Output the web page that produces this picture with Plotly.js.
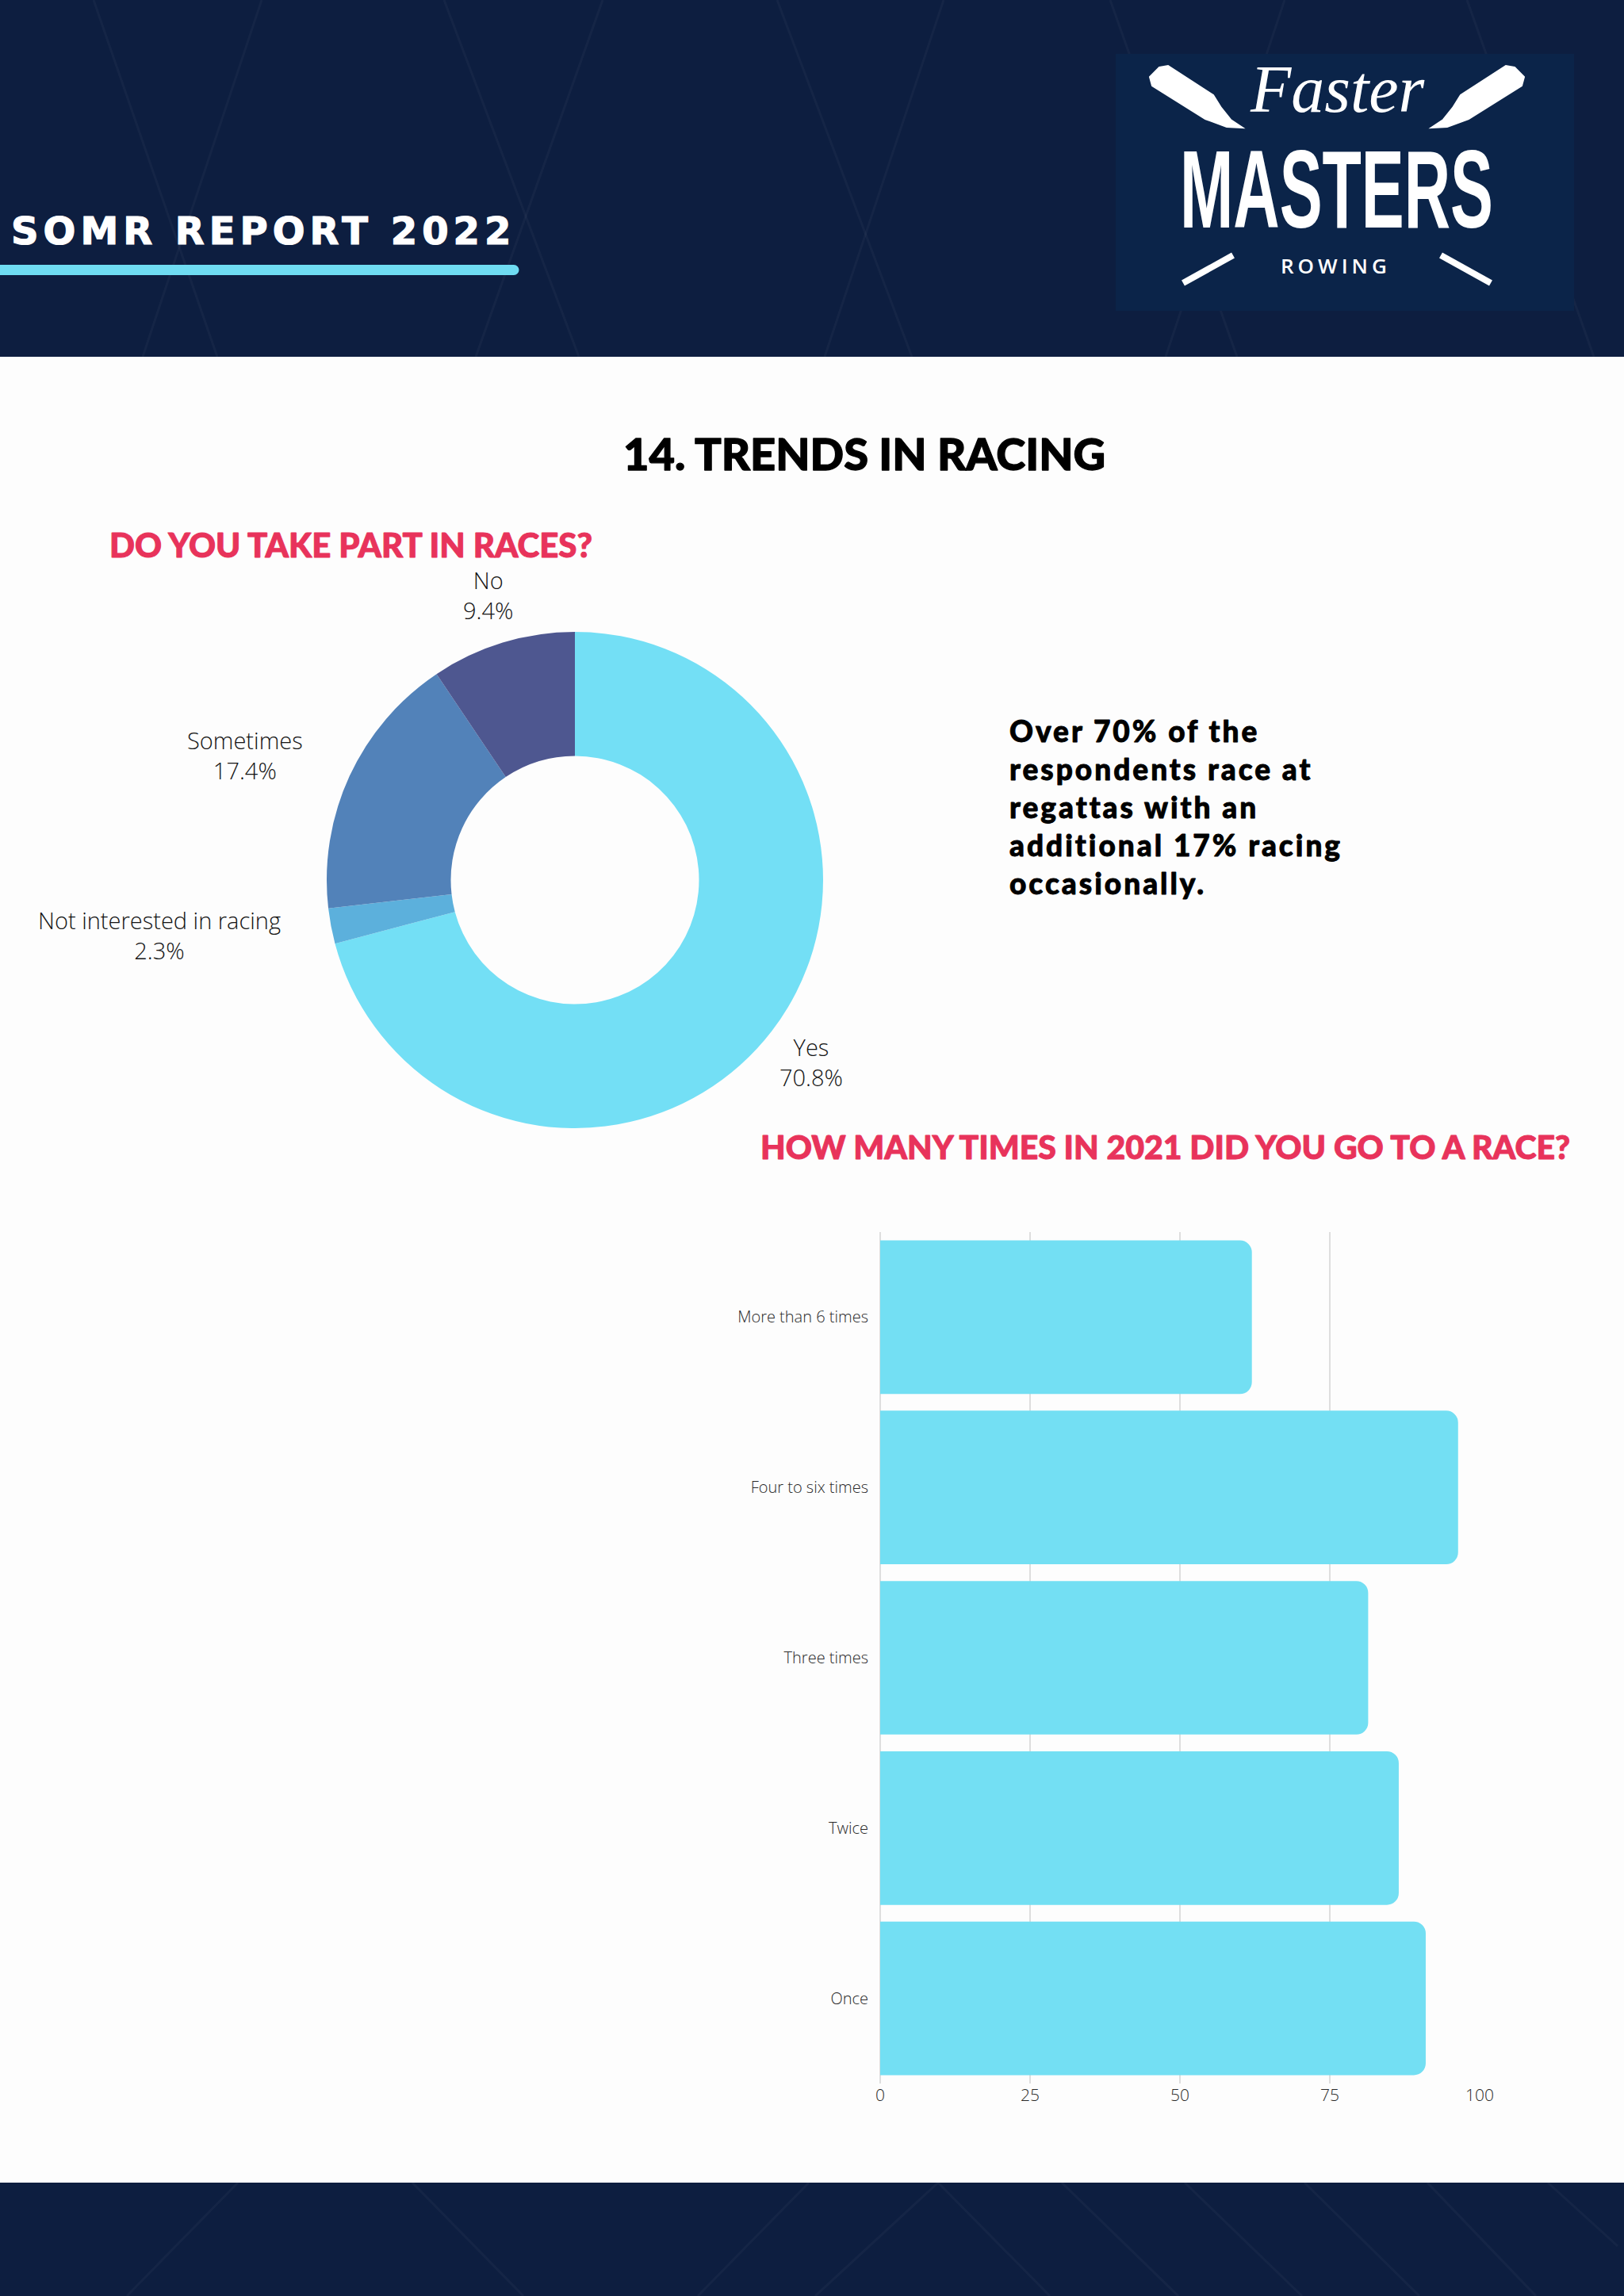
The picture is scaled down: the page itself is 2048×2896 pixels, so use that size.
<!DOCTYPE html>
<html>
<head>
<meta charset="utf-8">
<script src="https://cdn.plot.ly/plotly-3.0.1.min.js"></script>
<style>html,body{margin:0;padding:0;background:#fdfdfd;}</style>
</head>
<body>
<div id="chart" style="width:2048px;height:2896px;"></div>
<script>
// ---------- data ----------
const pieLabels = ["Yes", "Not interested in racing", "Sometimes", "No"];
const pieValues = [70.8, 2.3, 17.4, 9.4];
const pieColors = ["#73dff5", "#5cb0dc", "#5282b9", "#4e5790"];

const barCategories = ["More than 6 times", "Four to six times", "Three times", "Twice", "Once"];
const barValues = [62, 96.4, 81.4, 86.5, 91];
const xTickValues = [0, 25, 50, 75, 100];

const pageTitle = "14. TRENDS IN RACING";
const reportTitle = "SOMR REPORT 2022";
const pieTitle = "DO YOU TAKE PART IN RACES?";
const barTitle = "HOW MANY TIMES IN 2021 DID YOU GO TO A RACE?";
const bodyLines = ["Over 70% of the", "respondents race at", "regattas with an", "additional 17% racing", "occasionally."];

// ---------- font detection for the heavy headline face ----------
function measure(font) {
  const c = document.createElement("canvas").getContext("2d");
  c.font = font;
  return c.measureText("TRENDS IN RACING 2021 regattas").width;
}
const hasLatoBlackFamily = Math.abs(measure('900 50px "Lato Black", monospace') - measure("900 50px monospace")) > 0.5;
const heavy = hasLatoBlackFamily ? "'Lato Black', Lato, sans-serif" : "Lato, 'Open Sans', sans-serif";
const strokeScale = hasLatoBlackFamily ? 0.35 : 1;

// ---------- page geometry helpers (pixels -> paper) ----------
const W = 2048, H = 2896;
const px = v => v / W;
const py = v => 1 - v / H;
const navy = "#0d1e40";
const pink = "#e8335b";

function rectPx(x0, y0, x1, y1, color) {
  return {type: "rect", xref: "paper", yref: "paper",
    x0: px(x0), x1: px(x1), y0: py(y1), y1: py(y0),
    fillcolor: color, line: {width: 0}, layer: "below"};
}
function circlePx(cx, cy, r, color) {
  return {type: "circle", xref: "paper", yref: "paper",
    x0: px(cx - r), x1: px(cx + r), y0: py(cy + r), y1: py(cy - r),
    fillcolor: color, line: {width: 0}, layer: "below"};
}
function linePx(x0, y0, x1, y1, color, w, layer) {
  return {type: "line", xref: "paper", yref: "paper",
    x0: px(x0), y0: py(y0), x1: px(x1), y1: py(y1),
    line: {color: color, width: w}, layer: layer || "below"};
}
function polyPx(pts, color) {
  const d = pts.map((p, i) => (i ? "L" : "M") + px(p[0]).toFixed(5) + "," + py(p[1]).toFixed(5)).join(" ") + " Z";
  return {type: "path", xref: "paper", yref: "paper", path: d,
    fillcolor: color, line: {color: color, width: 2}, layer: "above"};
}

const shapes = [];
shapes.push(rectPx(0, 0, W, 450, navy));
shapes.push(rectPx(0, 2753, W, H, navy));
const faint = "rgba(255,255,255,0.035)";
[[118,0,274,450],[330,0,180,450],[560,0,730,450],[760,0,600,450],[980,0,1150,450],
 [1190,0,1040,450],[1400,0,1560,450],[1620,0,1470,450],[1850,0,2010,450]].forEach(s =>
  shapes.push(linePx(s[0], s[1], s[2], s[3], faint, 3)));
[[1183,2753,1028,2896],[1183,2753,1324,2896],[1339,2753,1486,2896],[1494,2753,1642,2896],
 [1645,2753,1790,2896],[1800,2753,1937,2896],[1952,2753,2040,2833],[1020,2753,880,2896],
 [300,2753,160,2896],[520,2753,660,2896]].forEach(s =>
  shapes.push(linePx(s[0], s[1], s[2], s[3], faint, 3)));
// underline bar
shapes.push(rectPx(0, 334, 648, 347, "#6fdcf2"));
shapes.push(circlePx(648, 340.5, 6.5, "#6fdcf2"));
// logo box
shapes.push(rectPx(1407, 68, 1985, 392, "#0b2449"));
// oar blades
const MIRROR = 3372;
const blade = [[1462,85],[1473,83],[1530,120],[1540,136],[1552,151],[1567,161],[1547,160],[1520,150],[1453,108],[1450,97]];
shapes.push(polyPx(blade, "#ffffff"));
shapes.push(polyPx(blade.map(p => [MIRROR - p[0], p[1]]), "#ffffff"));
// oar shafts
shapes.push(linePx(1492, 357, 1555, 322, "#ffffff", 8, "above"));
shapes.push(linePx(MIRROR - 1492, 357, MIRROR - 1555, 322, "#ffffff", 8, "above"));

// ---------- annotations ----------
function ann(text, x, y, xanchor, font, extra) {
  return Object.assign({text: text, xref: "paper", yref: "paper", x: px(x), y: py(y),
    xanchor: xanchor, yanchor: "middle", showarrow: false, font: font}, extra || {});
}
const annotations = [];
const idx = {};
function addAnn(name, a) { idx[name] = annotations.length; annotations.push(a); }

addAnn("report", ann(reportTitle, 14, 291, "left", {family: "'DejaVu Sans', sans-serif", size: 48, color: "#ffffff", weight: 700}));
addAnn("title", ann(pageTitle, 1090, 572, "center", {family: heavy, size: 56, color: "#000000", weight: 900}));
addAnn("pieTitle", ann(pieTitle, 442, 687, "center", {family: heavy, size: 42, color: pink, weight: 900}));
addAnn("body", ann(bodyLines.join("<br>"), 1271, 1018, "left", {family: heavy, size: 37, color: "#000000", weight: 900}, {align: "left"}));
addAnn("barTitle", ann(barTitle, 1469, 1446, "center", {family: heavy, size: 41, color: pink, weight: 900}));
addAnn("faster", ann("Faster", 1686, 113, "center", {family: "'Liberation Serif', serif", size: 84, color: "#ffffff", style: "italic"}));
addAnn("masters", ann("MASTERS", 1686, 240, "center", {family: "'Liberation Sans', sans-serif", size: 100, color: "#ffffff", weight: 700}));
addAnn("rowing", ann("ROWING", 1684, 335, "center", {family: "'Open Sans', sans-serif", size: 26, color: "#ffffff", weight: 600}));

// pie slice labels, placed along each slice's mid-angle
const pieCx = 725, pieCy = 1110, pieR = 313;
const pieTotal = pieValues.reduce((a, b) => a + b, 0);
let cum = 0;
pieLabels.forEach((lab, i) => {
  const mid = (cum + pieValues[i] / 2) / pieTotal * 2 * Math.PI;
  cum += pieValues[i];
  const s = Math.sin(mid), c = Math.cos(mid);
  const ax = pieCx + 1.2 * pieR * s, ay = pieCy - 1.2 * pieR * c;
  const xa = s > 0.85 ? "left" : (s < -0.85 ? "right" : "center");
  addAnn("pie" + i, ann(lab + "<br>" + pieValues[i].toFixed(1) + "%", ax, ay, xa,
    {family: "'Open Sans', sans-serif", size: 29, color: "#141414", weight: 300}, {align: "center"}));
});

// ---------- traces ----------
const pieTrace = {
  type: "pie",
  labels: pieLabels,
  values: pieValues,
  marker: {colors: pieColors, line: {width: 0}},
  hole: 0.5,
  sort: false,
  direction: "clockwise",
  rotation: 0,
  textinfo: "none",
  showlegend: false,
  domain: {x: [px(pieCx - pieR), px(pieCx + pieR)], y: [py(pieCy + pieR), py(pieCy - pieR)]},
  hoverinfo: "skip"
};

const barTrace = {
  type: "bar",
  orientation: "h",
  y: barCategories,
  x: barValues,
  marker: {color: "#73dff3", cornerradius: 15, line: {width: 0}},
  xaxis: "x",
  yaxis: "y",
  showlegend: false,
  hoverinfo: "skip"
};

const layout = {
  width: W, height: H,
  margin: {l: 0, r: 0, t: 0, b: 0, pad: 0},
  paper_bgcolor: "#fdfdfd",
  plot_bgcolor: "rgba(0,0,0,0)",
  showlegend: false,
  bargap: 0.098,
  xaxis: {
    domain: [px(1110), px(1866)],
    range: [0, 100],
    tickvals: xTickValues,
    ticktext: xTickValues.map(String),
    showgrid: true, gridcolor: "#dedede", gridwidth: 1.5,
    zeroline: true, zerolinecolor: "#dedede", zerolinewidth: 1.5,
    showline: false, ticks: "",
    tickfont: {family: "'Open Sans', sans-serif", size: 21, color: "#2a2a2a", weight: 300},
    fixedrange: true,
    anchor: "y"
  },
  yaxis: {
    domain: [py(2628), py(1554)],
    type: "category",
    categoryorder: "array",
    categoryarray: barCategories,
    autorange: "reversed",
    showgrid: false, zeroline: false, showline: false, ticks: "",
    ticklabelstandoff: 14,
    tickfont: {family: "'Open Sans', sans-serif", size: 20, color: "#2a2a2a", weight: 300},
    fixedrange: true,
    anchor: "x"
  },
  shapes: shapes,
  annotations: annotations
};

Plotly.newPlot("chart", [pieTrace, barTrace], layout, {staticPlot: true, displayModeBar: false}).then(gd => {
  const textOf = name => gd.querySelector('.annotation[data-index="' + idx[name] + '"] text.annotation-text');
  const groupOf = name => gd.querySelector('.annotation[data-index="' + idx[name] + '"]');
  // heavier headline strokes
  const strokes = {title: 3.6, pieTitle: 2.8, barTitle: 2.8, body: 2.5};
  Object.keys(strokes).forEach(n => {
    const t = textOf(n);
    if (!t) return;
    t.style.stroke = t.style.fill || "#000";
    t.style.strokeWidth = (strokes[n] * strokeScale) + "px";
    t.style.strokeLinejoin = "round";
  });
  const body = textOf("body");
  if (body) body.style.letterSpacing = "3px";
  // tracked report title, kept left-aligned
  const rep = textOf("report"), repG = groupOf("report");
  if (rep && repG) {
    rep.style.letterSpacing = "6px";
    rep.style.stroke = "#ffffff";
    rep.style.strokeWidth = "1.2px";
    const r = rep.getBoundingClientRect();
    repG.setAttribute("transform", "translate(" + (14 - r.left) + ",0)");
  }
  const row = textOf("rowing");
  if (row) row.style.letterSpacing = "5px";
  // condensed, tall wordmark fitted between the script word and ROWING
  const m = textOf("masters"), mg = groupOf("masters");
  const f = textOf("faster"), rw = textOf("rowing");
  if (m && mg) {
    const r = m.getBoundingClientRect();
    const top = f ? f.getBoundingClientRect().bottom + 1 : 163;
    const bottom = rw ? rw.getBoundingClientRect().top - 1 : 315;
    const sx = (1883 - 1488) / r.width;
    const sy = (bottom - top) / r.height;
    const tx = 1488 - sx * r.left;
    const ty = top - sy * r.top;
    mg.setAttribute("transform", "matrix(" + sx + ",0,0," + sy + "," + tx + "," + ty + ")");
  }
});
</script>
</body>
</html>
